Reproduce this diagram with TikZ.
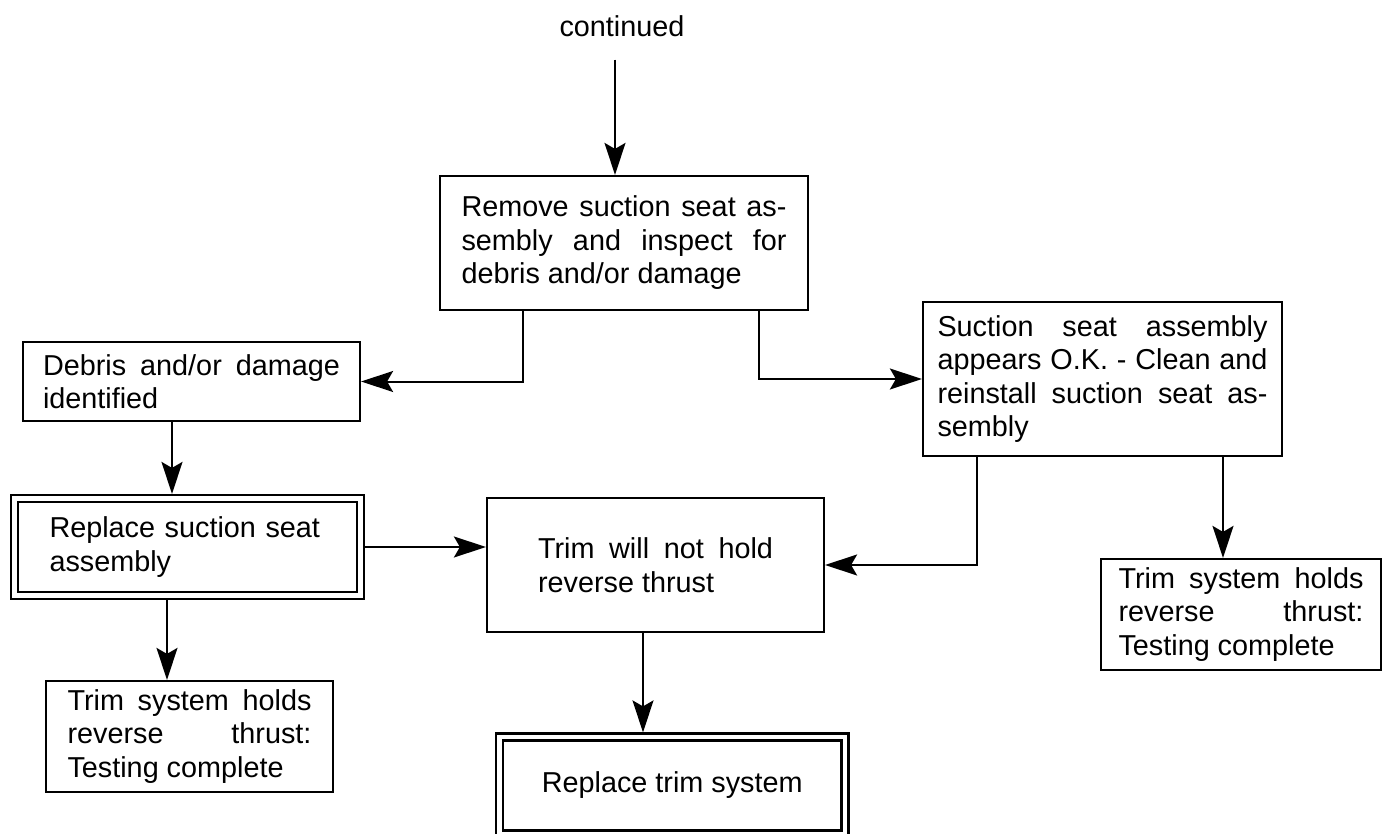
\documentclass[tikz,border=0pt]{standalone}
\usepackage{fontspec}
\setmainfont{Liberation Sans}
\usetikzlibrary{arrows.meta}
\begin{document}
\begin{tikzpicture}[x=0.5pt,y=-0.5pt,
  font=\fontsize{14.4}{16.75}\selectfont,
  box/.style={draw,line width=1.1pt,align=justify,inner sep=0pt},
  dbox/.style={box,align=left,double,double distance=2.4pt,outer sep=2.3pt},
  arr/.style={line width=1pt,-{Stealth[length=16pt,width=10.5pt,inset=3pt]}}]
\useasboundingbox (0,0) rectangle (1382,834);
% top box
\node (cont) at (622,26) {continued};
\node[box,minimum width=184pt,minimum height=67pt,text width=162.5pt] (rem) at (624,243)
{Remove suction seat as-\linebreak sembly and inspect for\linebreak debris and/or damage};
% left branch
\node[box,minimum width=168.5pt,minimum height=39.5pt,text width=148.5pt] (debris) at (191.5,381.5)
{Debris and/or damage\linebreak identified};
\node[dbox,minimum width=173pt,minimum height=48.5pt,text width=138pt] (repl) at (187.5,547)
{Replace suction seat\\assembly};
\node[box,minimum width=143.5pt,minimum height=55.5pt,text width=122pt] (holdL) at (189.5,736.5)
{Trim system holds\linebreak reverse thrust:\linebreak Testing complete};
% right branch
\node[box,minimum width=179.5pt,minimum height=77pt,text width=165pt] (suct) at (1102.5,379)
{Suction seat assembly\linebreak appears O.K. - Clean and\linebreak reinstall suction seat as-\linebreak sembly};
\node[box,minimum width=140pt,minimum height=55.5pt,text width=122.5pt] (holdR) at (1241,614.5)
{Trim system holds\linebreak reverse thrust:\linebreak Testing complete};
% middle
\node[box,minimum width=168.5pt,minimum height=67pt,text width=117.5pt] (trim) at (655.5,565)
{Trim will not hold\linebreak reverse thrust};
\node[dbox,minimum width=172.75pt,minimum height=48.5pt] (trimsys) at (672.25,785.5)
{Replace trim system};
% arrows
\draw[arr] ([xshift=-3.5pt,yshift=-8pt]cont.south) -- ([xshift=-4.5pt]rem.north);
\draw[arr] ([xshift=-50.5pt]rem.south) |- (debris.east);
\draw[arr] ([xshift=67.5pt]rem.south) |- (suct.west);
\draw[arr] ([xshift=-9.75pt]debris.south) -- ([xshift=-7.75pt]repl.north);
\draw[arr] (repl.east) -- (repl.east -| trim.west);
\draw[arr] ([xshift=-10.25pt]repl.south) -- ([xshift=-11.25pt]holdL.north);
\draw[arr] ([xshift=-62.75pt]suct.south) |- (trim.east);
\draw[arr] ([xshift=60.25pt]suct.south) -- ([xshift=-9pt]holdR.north);
\draw[arr] ([xshift=-6.25pt]trim.south) -- ([xshift=-14.625pt]trimsys.north);
\end{tikzpicture}
\end{document}
